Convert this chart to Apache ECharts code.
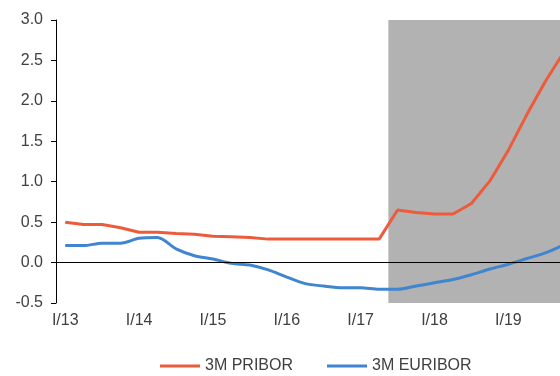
<!DOCTYPE html>
<html>
<head>
<meta charset="utf-8">
<script src="https://cdn.jsdelivr.net/npm/echarts@6/dist/echarts.min.js"></script>
<style>
  html, body { margin: 0; padding: 0; background: #fff; }
  #chart { width: 560px; height: 376px; }
</style>
</head>
<body>
<div id="chart"></div>
<script>
// quarters I/13 .. IV/19
var years = ['13', '14', '15', '16', '17', '18', '19']
var quarterNames = ['I', 'II', 'III', 'IV']
var categories = []
years.forEach(function (y) {
  quarterNames.forEach(function (q) { categories.push(q + '/' + y) })
})

var pribor = [0.50, 0.47, 0.47, 0.43, 0.375, 0.375, 0.36, 0.35, 0.325, 0.32, 0.31, 0.29, 0.29, 0.29,
  0.29, 0.29, 0.29, 0.29, 0.65, 0.62, 0.60, 0.60, 0.73, 1.01, 1.39, 1.83, 2.24, 2.60]
var euribor = [0.21, 0.21, 0.24, 0.24, 0.30, 0.31, 0.17, 0.085, 0.045, -0.01, -0.03, -0.09, -0.18, -0.26,
  -0.29, -0.31, -0.31, -0.33, -0.33, -0.29, -0.25, -0.21, -0.15, -0.08, -0.02, 0.05, 0.12, 0.22]

// forecast band (from III/17 on), in band units of the hidden value axis
var forecastFrom = 18
var forecastTo = 28

var textColor = '#404040'
var font = 'Liberation Sans, Arial, sans-serif'

var chart = echarts.init(document.getElementById('chart'))
chart.setOption({
  animation: false,
  grid: {
    left: 56,
    top: 20,
    bottom: 73,
    width: 517,  // plot runs past the right edge of the picture
    outerBoundsMode: 'none'
  },
  legend: {
    left: 155,
    top: 353,
    itemWidth: 40,
    itemHeight: 3,
    itemGap: 34,
    icon: 'rect',
    textStyle: { color: textColor, fontSize: 16, fontFamily: font },
    data: ['3M PRIBOR', '3M EURIBOR']
  },
  xAxis: [{
    type: 'category',
    data: categories,
    boundaryGap: true,
    axisLine: { show: false },
    axisTick: { show: false },
    axisLabel: {
      interval: 3,
      margin: 10,
      color: textColor,
      fontSize: 16,
      fontFamily: font
    },
    splitLine: { show: false }
  }, {
    type: 'value',
    min: 0,
    max: categories.length,
    show: false
  }],
  yAxis: {
    type: 'value',
    min: -0.5,
    max: 3.0,
    interval: 0.5,
    axisLine: { show: true, onZero: false, lineStyle: { color: '#000', width: 1 } },
    axisTick: { show: true, length: 5, lineStyle: { color: '#000' } },
    axisLabel: {
      margin: 13,
      color: textColor,
      fontSize: 16,
      fontFamily: font,
      formatter: function (v) { return v.toFixed(1) }
    },
    splitLine: { show: false }
  },
  series: [{
    type: 'line',
    xAxisIndex: 1,
    data: [],
    z: 1,
    silent: true,
    markArea: {
      silent: true,
      itemStyle: { color: '#b2b2b2' },
      data: [[{ xAxis: forecastFrom }, { xAxis: forecastTo }]]
    }
  }, {
    name: '3M PRIBOR',
    type: 'line',
    data: pribor,
    symbol: 'none',
    color: '#ec5b3c',
    lineStyle: { width: 3, color: '#ec5b3c' },
    z: 3,
    markLine: {
      silent: true,
      symbol: 'none',
      label: { show: false },
      lineStyle: { color: '#000', width: 1, type: 'solid' },
      data: [{ yAxis: 0 }]
    }
  }, {
    name: '3M EURIBOR',
    type: 'line',
    data: euribor,
    symbol: 'none',
    smooth: 0.3,
    color: '#3f85cf',
    lineStyle: { width: 3, color: '#3f85cf' },
    z: 3
  }]
})
</script>
</body>
</html>
